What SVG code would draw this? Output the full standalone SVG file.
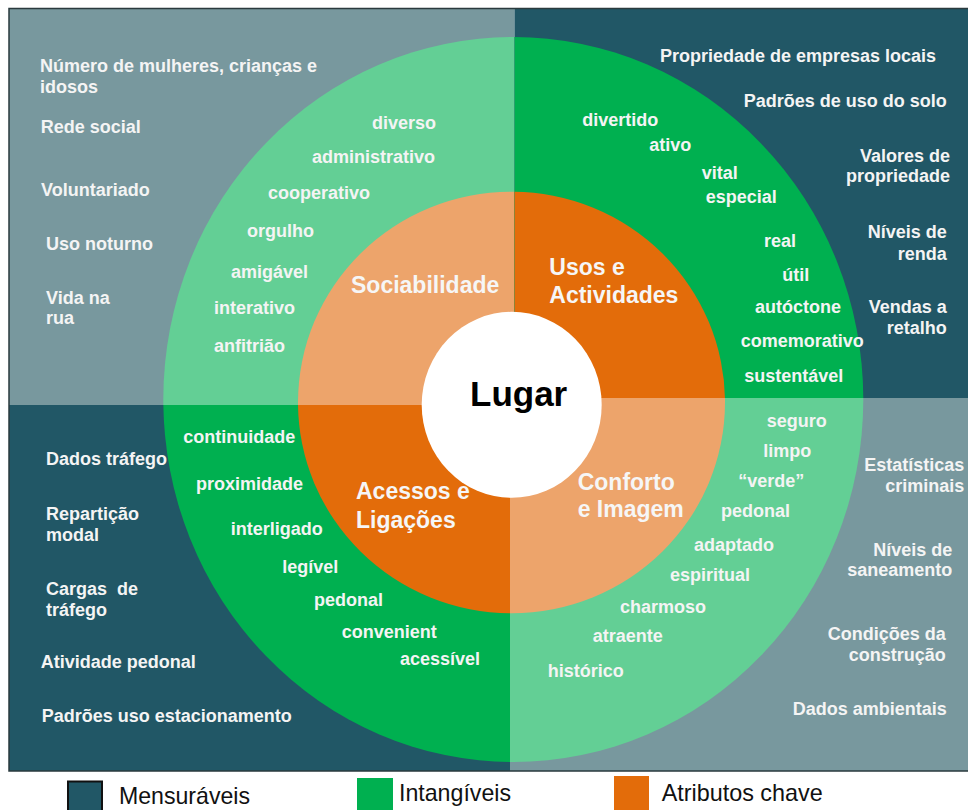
<svg xmlns="http://www.w3.org/2000/svg" width="968" height="810" viewBox="0 0 968 810">
<style>
.t{font-family:"Liberation Sans",Arial,sans-serif;font-weight:bold;font-size:18px;fill:#f4f4f4}
.e{text-anchor:end}
.k{font-family:"Liberation Sans",Arial,sans-serif;font-weight:bold;font-size:23px;fill:#f6f6f6}
.lg{font-family:"Liberation Sans",Arial,sans-serif;font-size:24px;fill:#111}
.dk{fill:#215766}.gy{fill:#78989e}.g{fill:#00b050}.lgn{fill:#63cf95}.o{fill:#e36c0a}.lo{fill:#eda46b}
</style>
<defs>
<clipPath id="cTL"><rect x="9" y="9" width="505.5" height="396"/></clipPath>
<clipPath id="cTR"><rect x="514.5" y="9" width="453.5" height="389"/></clipPath>
<clipPath id="cBL"><rect x="9" y="405" width="501" height="366"/></clipPath>
<clipPath id="cBR"><rect x="510" y="398" width="458" height="373"/></clipPath>
<ellipse id="outer" cx="513.3" cy="399.5" rx="350" ry="362.5"/>
<ellipse id="mid" cx="511.5" cy="402.5" rx="213.5" ry="210.7"/>
</defs>
<rect x="0" y="0" width="968" height="810" fill="#ffffff"/>
<g id="quadrant-sociabilidade" clip-path="url(#cTL)">
<rect class="gy" x="9" y="9" width="506" height="396"/>
<use href="#outer" class="lgn"/>
<use href="#mid" class="lo"/>
</g>
<g id="quadrant-usos" clip-path="url(#cTR)">
<rect class="dk" x="514" y="9" width="454" height="389"/>
<use href="#outer" class="g"/>
<use href="#mid" class="o"/>
</g>
<g id="quadrant-acessos" clip-path="url(#cBL)">
<rect class="dk" x="9" y="405" width="501" height="366"/>
<use href="#outer" class="g"/>
<use href="#mid" class="o"/>
</g>
<g id="quadrant-conforto" clip-path="url(#cBR)">
<rect class="gy" x="510" y="398" width="458" height="373"/>
<use href="#outer" class="lgn"/>
<use href="#mid" class="lo"/>
</g>
<rect id="frame" x="9" y="8.5" width="960" height="762.5" fill="none" stroke="#2a3a3e" stroke-width="1.5"/>
<g id="lugar">
<ellipse cx="511.7" cy="404.8" rx="90" ry="93" fill="#ffffff"/>
<text x="470" y="406" style="font-family:'Liberation Sans',Arial,sans-serif;font-weight:bold;font-size:35px;fill:#000">Lugar</text>
</g>
<g id="key-attributes">
<text class="k" x="351" y="293">Sociabilidade</text>
<text class="k" x="549.3" y="275">Usos e</text>
<text class="k" x="549.3" y="302.7">Actividades</text>
<text class="k" x="356" y="499.3">Acessos e</text>
<text class="k" x="356" y="528.3">Ligações</text>
<text class="k" x="577.7" y="490">Conforto</text>
<text class="k" x="577.7" y="516.7">e Imagem</text>
</g>
<g id="intangiveis-sociabilidade">
<text class="t" x="372" y="129">diverso</text>
<text class="t" x="312" y="162.7">administrativo</text>
<text class="t" x="268" y="199">cooperativo</text>
<text class="t" x="247" y="236.7">orgulho</text>
<text class="t" x="231" y="278">amigável</text>
<text class="t" x="214" y="314">interativo</text>
<text class="t" x="214" y="352">anfitrião</text>
</g>
<g id="mensuraveis-sociabilidade">
<text class="t" x="40" y="72">Número de mulheres, crianças e</text>
<text class="t" x="40" y="93">idosos</text>
<text class="t" x="40.7" y="133">Rede social</text>
<text class="t" x="41" y="195.5">Voluntariado</text>
<text class="t" x="46" y="250">Uso noturno</text>
<text class="t" x="46" y="304">Vida na</text>
<text class="t" x="46" y="324">rua</text>
</g>
<g id="intangiveis-usos">
<text class="t" x="582.3" y="125.7">divertido</text>
<text class="t" x="649.3" y="151">ativo</text>
<text class="t" x="701.7" y="179">vital</text>
<text class="t" x="705.7" y="203.3">especial</text>
<text class="t" x="764" y="247.3">real</text>
<text class="t" x="782.3" y="281">útil</text>
<text class="t" x="755" y="313.3">autóctone</text>
<text class="t" x="740.7" y="346.7">comemorativo</text>
<text class="t" x="744.3" y="381.7">sustentável</text>
</g>
<g id="mensuraveis-usos">
<text class="t" x="660" y="61.7">Propriedade de empresas locais</text>
<text class="t e" x="946.7" y="107.3">Padrões de uso do solo</text>
<text class="t e" x="950" y="161.7">Valores de</text>
<text class="t e" x="950" y="181.7">propriedade</text>
<text class="t e" x="946.7" y="238.3">Níveis de</text>
<text class="t e" x="946.7" y="260">renda</text>
<text class="t e" x="946.7" y="312.7">Vendas a</text>
<text class="t e" x="946.7" y="334">retalho</text>
</g>
<g id="intangiveis-acessos">
<text class="t" x="183.3" y="442.7">continuidade</text>
<text class="t" x="196" y="490">proximidade</text>
<text class="t" x="230.7" y="535">interligado</text>
<text class="t" x="282.3" y="573.3">legível</text>
<text class="t" x="314" y="605.7">pedonal</text>
<text class="t" x="341.7" y="638.3">convenient</text>
<text class="t" x="400" y="665">acessível</text>
</g>
<g id="mensuraveis-acessos">
<text class="t" x="46" y="465">Dados tráfego</text>
<text class="t" x="46" y="520">Repartição</text>
<text class="t" x="46" y="540.7">modal</text>
<text class="t" x="46" y="595" xml:space="preserve">Cargas  de</text>
<text class="t" x="46" y="616">tráfego</text>
<text class="t" x="40.7" y="668.3">Atividade pedonal</text>
<text class="t" x="41.7" y="721.7">Padrões uso estacionamento</text>
</g>
<g id="intangiveis-conforto">
<text class="t" x="766.7" y="426.7">seguro</text>
<text class="t" x="763.3" y="457.3">limpo</text>
<text class="t" x="738.3" y="487.3">“verde”</text>
<text class="t" x="721" y="516.7">pedonal</text>
<text class="t" x="694" y="551">adaptado</text>
<text class="t" x="670" y="580.7">espiritual</text>
<text class="t" x="620" y="613.3">charmoso</text>
<text class="t" x="592.7" y="641.7">atraente</text>
<text class="t" x="547.7" y="676.7">histórico</text>
</g>
<g id="mensuraveis-conforto">
<text class="t e" x="964.3" y="471">Estatísticas</text>
<text class="t e" x="964.3" y="491.7">criminais</text>
<text class="t e" x="952.3" y="555.7">Níveis de</text>
<text class="t e" x="952.3" y="576">saneamento</text>
<text class="t e" x="945.7" y="640">Condições da</text>
<text class="t e" x="945.7" y="660.7">construção</text>
<text class="t e" x="946.7" y="715">Dados ambientais</text>
</g>
<g id="connectors"></g>
<g id="legend">
<g id="legend-mensuraveis">
<rect x="68" y="781.5" width="34" height="30" class="dk" stroke="#111" stroke-width="2"/>
<text class="lg" x="119" y="804.3" textLength="131" lengthAdjust="spacingAndGlyphs">Mensuráveis</text>
</g>
<g id="legend-intangiveis">
<rect x="357" y="778" width="36" height="32" class="g"/>
<text class="lg" x="399" y="801" textLength="112" lengthAdjust="spacingAndGlyphs">Intangíveis</text>
</g>
<g id="legend-atributos">
<rect x="614" y="776" width="35" height="34" class="o"/>
<text class="lg" x="661.7" y="801" textLength="161" lengthAdjust="spacingAndGlyphs">Atributos chave</text>
</g>
</g>
</svg>
